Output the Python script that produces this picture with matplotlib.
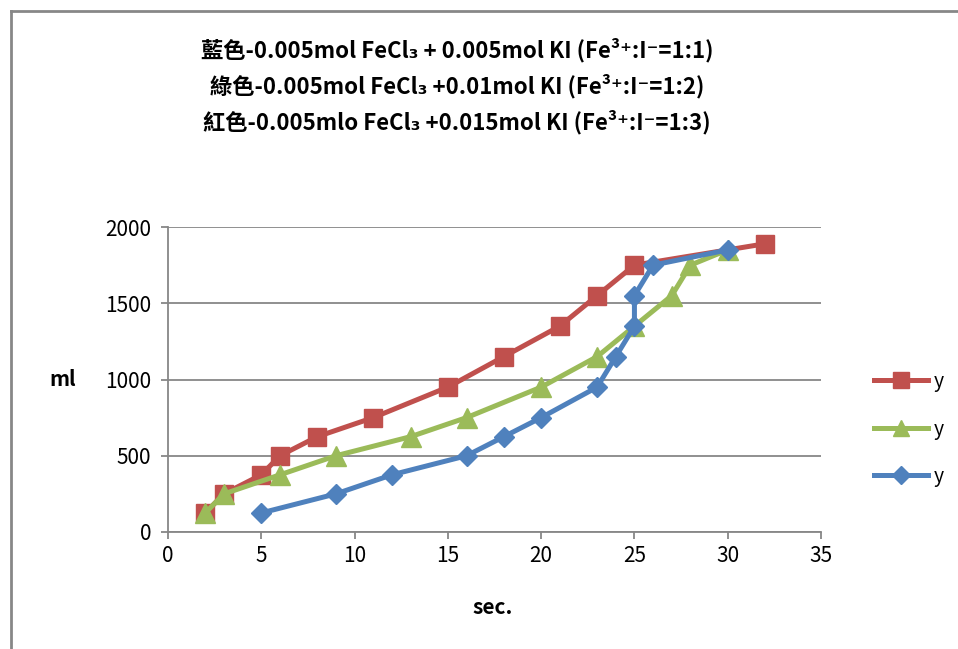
"""
Fe3+ / I- reaction: gas volume vs. time for three mixing ratios.
"""
import matplotlib
matplotlib.use("Agg")
import matplotlib.pyplot as plt
from matplotlib.lines import Line2D

plt.rcParams['font.family'] = ['Noto Sans CJK TC', 'DejaVu Sans']

# DATA
########################
# red  : 1:3
red_t = [2, 3, 5, 6, 8, 11, 15, 18, 21, 23, 25, 32]
red_v = [125, 250, 375, 500, 625, 750, 950, 1150, 1350, 1550, 1750, 1890]
# green: 1:2
green_t = [2, 3, 6, 9, 13, 16, 20, 23, 25, 27, 28, 30]
green_v = [125, 250, 375, 500, 625, 750, 950, 1150, 1350, 1550, 1750, 1850]
# blue : 1:1
blue_t = [5, 9, 12, 16, 18, 20, 23, 24, 25, 25, 26, 30]
blue_v = [125, 250, 375, 500, 625, 750, 950, 1150, 1350, 1550, 1750, 1850]

title_lines = [
    "藍色-0.005mol FeCl₃ + 0.005mol KI (Fe³⁺:I⁻=1:1)",
    "綠色-0.005mol FeCl₃ +0.01mol KI (Fe³⁺:I⁻=1:2)",
    "紅色-0.005mlo FeCl₃ +0.015mol KI (Fe³⁺:I⁻=1:3)",
]
legend_labels = ["y", "y", "y"]

RED = "#C0504D"
GREEN = "#9BBB59"
BLUE = "#4F81BD"
GRAY = "#878787"

# PLOT
########################
fig = plt.figure(figsize=(9.58, 6.49), dpi=100)
W, H = 958, 649
ax = fig.add_axes([168 / W, 1 - 532 / H, (821 - 168) / W, (532 - 227) / H])

ax.plot(red_t, red_v, color=RED, lw=3.6, marker="s", ms=13, zorder=3)
ax.plot(green_t, green_v, color=GREEN, lw=3.6, marker="^", ms=14, zorder=4)
ax.plot(blue_t, blue_v, color=BLUE, lw=3.6, marker="D", ms=10, zorder=5)

ax.set_xlim(0, 35)
ax.set_ylim(0, 2000)
ax.set_xticks(range(0, 36, 5))
ax.set_yticks(range(0, 2001, 500))
ax.grid(axis="y", color=GRAY, lw=1.3)
ax.set_axisbelow(True)
for s in ["top", "right"]:
    ax.spines[s].set_visible(False)
for s in ["left", "bottom"]:
    ax.spines[s].set_color(GRAY)
    ax.spines[s].set_linewidth(1.3)
ax.tick_params(axis="both", colors=GRAY, length=5, width=1.3, labelsize=15,
               labelcolor="black", direction="out")
ax.tick_params(axis="x", pad=4)
ax.tick_params(axis="y", pad=7)

fig.text(493 / W, 1 - 608 / H, "sec.", ha="center", va="center",
         fontsize=15, fontweight="bold")
fig.text(63 / W, 1 - 380 / H, "ml", ha="center", va="center",
         fontsize=15, fontweight="bold")

for i, line in enumerate(title_lines):
    fig.text(457 / W, 1 - (50 + 36 * i) / H, line, ha="center", va="center",
             fontsize=16, fontweight="bold")

handles = [
    Line2D([], [], color=RED, lw=3.6, marker="s", ms=11),
    Line2D([], [], color=GREEN, lw=3.6, marker="^", ms=11),
    Line2D([], [], color=BLUE, lw=3.6, marker="D", ms=9),
]
fig.legend(handles, legend_labels, loc="center left",
           bbox_to_anchor=(856 / W, 1 - 429 / H), frameon=False,
           fontsize=14, handlelength=2.8, labelspacing=1.35, handletextpad=0.3)

# outer chart border (top and left visible)
fig.add_artist(Line2D([11 / W, 11 / W], [0, 1 - 11 / H], color=GRAY, lw=2,
                      transform=fig.transFigure))
fig.add_artist(Line2D([11 / W, 1], [1 - 11 / H, 1 - 11 / H], color=GRAY, lw=2,
                      transform=fig.transFigure))

fig.savefig("out.png", dpi=100)
